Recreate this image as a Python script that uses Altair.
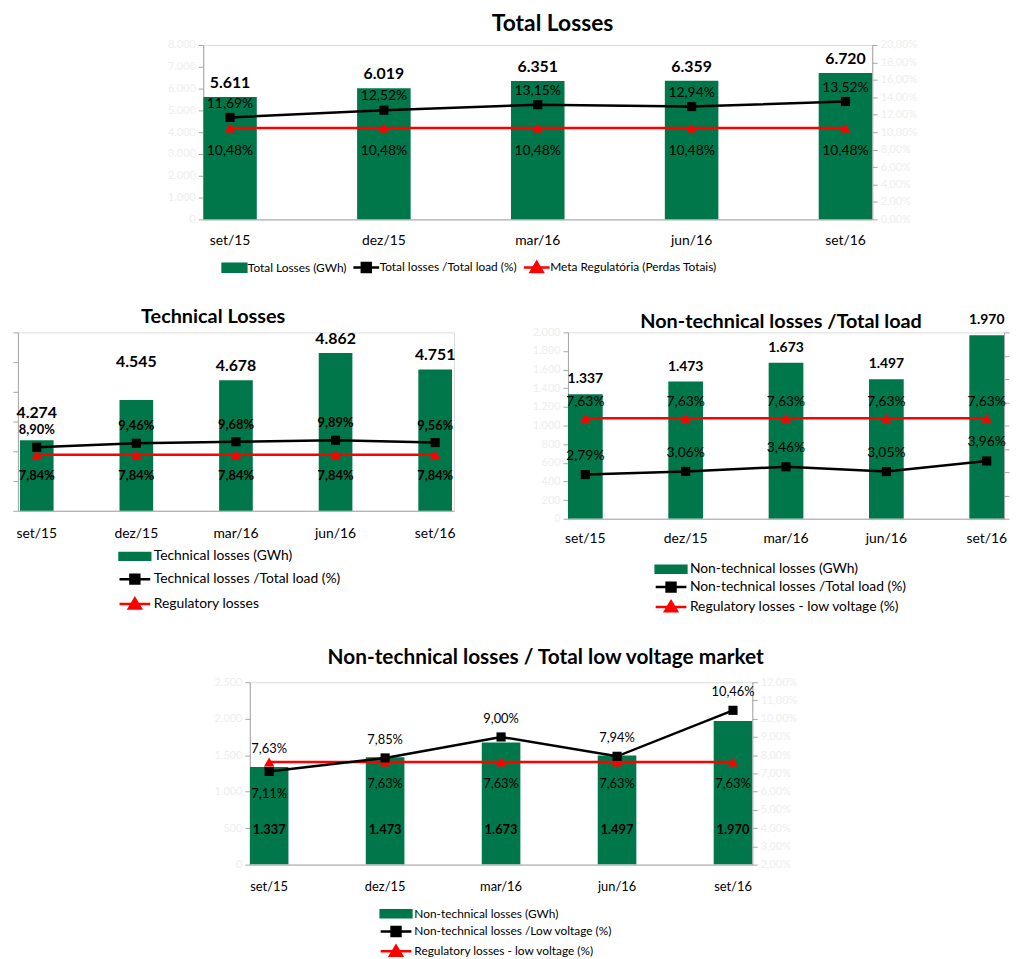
import altair as alt
import pandas as pd

# ---------------- data ----------------
periods = ["set/15", "dez/15", "mar/16", "jun/16", "set/16"]

total_losses_gwh = [5611, 6019, 6351, 6359, 6720]
total_losses_pct = [11.69, 12.52, 13.15, 12.94, 13.52]
total_target_pct = [10.48, 10.48, 10.48, 10.48, 10.48]

technical_losses_gwh = [4274, 4545, 4678, 4862, 4751]
technical_losses_pct = [8.90, 9.46, 9.68, 9.89, 9.56]
technical_regulatory_pct = [7.84, 7.84, 7.84, 7.84, 7.84]

nontech_losses_gwh = [1337, 1473, 1673, 1497, 1970]
nontech_load_pct = [2.79, 3.06, 3.46, 3.05, 3.96]
nontech_regulatory_pct = [7.63, 7.63, 7.63, 7.63, 7.63]

nontech_lv_pct = [7.11, 7.85, 9.00, 7.94, 10.46]
lv_regulatory_pct = [7.63, 7.63, 7.63, 7.63, 7.63]

top_series = ["Total Losses (GWh)", "Total losses /Total load (%)",
              "Meta Regulatória (Perdas Totais)"]
tech_series = ["Technical losses (GWh)", "Technical losses /Total load (%)",
               "Regulatory losses"]
nontech_series = ["Non-technical losses (GWh)", "Non-technical losses /Total load (%)",
                  "Regulatory losses - low voltage (%)"]
lv_series = ["Non-technical losses (GWh)", "Non-technical losses /Low voltage (%)",
             "Regulatory losses - low voltage (%)"]

top_left_ticks = [0, 1000, 2000, 3000, 4000, 5000, 6000, 7000, 8000]
top_right_ticks = [0, 2, 4, 6, 8, 10, 12, 14, 16, 18, 20]
tech_left_ticks = [3800, 4000, 4200, 4400, 4600, 4800, 5000]
nontech_left_ticks = [0, 200, 400, 600, 800, 1000, 1200, 1400, 1600, 1800, 2000]
nontech_right_ticks = [-1, 1, 3, 5, 7, 9, 11, 13, 15]
lv_left_ticks = [0, 500, 1000, 1500, 2000, 2500]
lv_right_ticks = [2, 3, 4, 5, 6, 7, 8, 9, 10, 11, 12]

# ---------------- style ----------------
FONT = "Lato"
GREEN = "#00774A"
RED = "#FF0000"
AXIS_GRAY = "#A6A6A6"
FAINT = "#EEEEEE"

INDEP = dict(fill="independent", stroke="independent", shape="independent")


def fmt_num(f):
    return f"replace(format({f}, ','), ',', '.')"


def fmt_pct(f):
    return f"replace(format({f}, '.2f'), '.', ',') + '%'"


def y_axis(values, labels, expr, orient):
    if labels:
        return alt.Axis(title=None, orient=orient, values=values, labelExpr=expr,
                        labelColor=FAINT, labelFont=FONT, labelFontSize=11,
                        tickColor=AXIS_GRAY, tickSize=5, domainColor=AXIS_GRAY,
                        grid=False, labelPadding=3)
    return alt.Axis(title=None, orient=orient, values=values, labels=False,
                    tickColor=AXIS_GRAY, tickSize=5, domainColor=AXIS_GRAY, grid=False)


def legend_paths(line_half, rect_half_w, rect_half_h):
    return [
        f"M{-rect_half_w},{-rect_half_h}H{rect_half_w}V{rect_half_h}H{-rect_half_w}Z",
        f"M{-line_half},0H{line_half}M-0.9,-0.9H0.9V0.9H-0.9Z",
        f"M{-line_half},0H{line_half}M0,-1.1L1.2,0.9H-1.2Z",
    ]


def text_layers(base, X, Y, fld, fmt, rules, fs, fw):
    out = []
    for flt, baseline, dy in rules:
        t = base.transform_calculate(lbl=fmt(f"datum.{fld}"))
        if flt:
            t = t.transform_filter(flt)
        t = t.mark_text(font=FONT, fontSize=fs, fontWeight=fw, color="black",
                        baseline=baseline, dy=dy).encode(x=X, y=Y, text="lbl:N")
        out.append(t)
    return out


def build_panel(gwh, pct, reg, series, o):
    df = pd.DataFrame({"period": periods, "gwh": gwh, "pct": pct, "reg": reg})
    base = alt.Chart(df)
    X = alt.X("period:N", sort=periods,
              scale=alt.Scale(domain=periods, paddingInner=o["pi"], paddingOuter=o["po"]),
              axis=alt.Axis(title=None, labelAngle=0, ticks=False, tickSize=0,
                            domainColor=AXIS_GRAY, labelFont=FONT, labelFontSize=o["xfs"],
                            labelColor="black", labelPadding=o["xpad"], grid=False))

    ls = alt.Scale(domain=o["ld"], nice=False, zero=False)
    la = y_axis(o["lt"], o["ll"], fmt_num("datum.value"), "left")

    bars = base.mark_bar(color=GREEN, clip=True).encode(
        x=X, y=alt.Y("gwh:Q", scale=ls, axis=la))

    bl = o["bar_label"]
    if bl.get("inside"):
        Yb = alt.YDatum(0, scale=ls, axis=la)
    else:
        Yb = alt.Y("gwh:Q", scale=ls, axis=la)
    bar_texts = text_layers(base, X, Yb, "gwh", fmt_num, bl["rules"], bl["fs"], "bold")

    lg = o["legend"]
    leg_df = pd.DataFrame({"series": series})
    leg_kw = dict(title=None, orient="none", legendX=lg["x"], legendY=lg["y"],
                  direction=lg["dir"], symbolSize=100, symbolStrokeWidth=2.5,
                  symbolOpacity=1, labelFont=FONT, labelFontSize=lg["fs"],
                  labelColor="black", labelOffset=lg["lo"], rowPadding=lg["rp"],
                  columnPadding=lg["cp"], padding=0, labelLimit=400)
    if lg["dir"] == "vertical":
        leg_kw["columns"] = 1
    paths = legend_paths(*lg["paths"])
    leg = alt.Chart(leg_df).mark_point(opacity=0, size=1).encode(
        fill=alt.Fill("series:N", scale=alt.Scale(domain=series, range=[GREEN, "black", RED]),
                      legend=alt.Legend(**leg_kw)),
        stroke=alt.Stroke("series:N", scale=alt.Scale(domain=series, range=[GREEN, "black", RED]),
                          legend=alt.Legend(**leg_kw)),
        shape=alt.Shape("series:N", scale=alt.Scale(domain=series, range=paths),
                        legend=alt.Legend(**leg_kw)),
    )

    left = alt.layer(bars, *bar_texts, leg)

    rs = alt.Scale(domain=o["rd"], nice=False, zero=False)
    ra = y_axis(o["rt"], o["rl"], fmt_pct("datum.value"), "right") if o["r_on"] else None
    Yp = alt.Y("pct:Q", scale=rs, axis=ra)
    Yr = alt.Y("reg:Q", scale=rs, axis=ra)

    line_black = base.mark_line(color="black", strokeWidth=2.5).encode(x=X, y=Yp)
    pts_black = base.mark_point(shape="square", filled=True, size=85, color="black",
                                opacity=1).encode(x=X, y=Yp)
    line_red = base.mark_line(color=RED, strokeWidth=2.5).encode(x=X, y=Yr)
    pts_red = base.mark_point(shape="triangle-up", filled=True, size=110, color=RED,
                              opacity=1).encode(x=X, y=Yr)

    pl = o["pct_label"]
    layers = [line_red, line_black, pts_red, pts_black]
    layers += text_layers(base, X, Yp, "pct", fmt_pct, pl["black"], pl["fs"], pl["fw"])
    layers += text_layers(base, X, Yr, "reg", fmt_pct, pl["red"], pl["fs"], pl["fw"])
    right = alt.layer(*layers)

    t = o["title"]
    return alt.layer(left, right).resolve_scale(y="independent").properties(
        width=o["w"], height=o["h"],
        title=alt.TitleParams(t["text"], font=FONT, fontSize=t["fs"], fontWeight="bold",
                              color="black", anchor="middle", frame="group",
                              dx=t["dx"], offset=t["off"]))


top = build_panel(total_losses_gwh, total_losses_pct, total_target_pct, top_series, dict(
    w=675, h=176, pi=0.652, po=0.0, xfs=14, xpad=14,
    ld=[0, 8000], lt=top_left_ticks, ll=True,
    rd=[0, 20], rt=top_right_ticks, rl=True, r_on=True,
    bar_label=dict(fs=16, rules=[(None, "bottom", -6)]),
    pct_label=dict(fs=14, fw="normal",
                   black=[(None, "bottom", -7)], red=[(None, "top", 16)]),
    title=dict(text="Total Losses", fs=23, dx=15, off=3),
    legend=dict(x=25, y=218, dir="horizontal", fs=12, lo=7, rp=0, cp=1,
                paths=(2.6, 2.4, 0.8)),
))

tech = build_panel(technical_losses_gwh, technical_losses_pct, technical_regulatory_pct,
                   tech_series, dict(
    w=440, h=180, pi=0.662, po=0.02, xfs=14, xpad=16,
    ld=[3800, 5000], lt=tech_left_ticks, ll=False,
    rd=[0, 25], rt=[], rl=False, r_on=False,
    bar_label=dict(fs=16, rules=[("datum.period == 'set/15'", "bottom", -20),
                                 ("datum.period == 'dez/15'", "bottom", -30),
                                 ("datum.period != 'set/15' && datum.period != 'dez/15'",
                                  "bottom", -6)]),
    pct_label=dict(fs=13, fw="bold",
                   black=[(None, "bottom", -10)], red=[(None, "top", 15)]),
    title=dict(text="Technical Losses", fs=20, dx=-23, off=4),
    legend=dict(x=111, y=219, dir="vertical", fs=14, lo=12, rp=4, cp=0,
                paths=(3.1, 3.1, 0.7)),
))

nontech = build_panel(nontech_losses_gwh, nontech_load_pct, nontech_regulatory_pct,
                      nontech_series, dict(
    w=440, h=188, pi=0.654, po=0.0, xfs=14, xpad=13,
    ld=[0, 2000], lt=nontech_left_ticks, ll=True,
    rd=[-1, 15], rt=nontech_right_ticks, rl=False, r_on=True,
    bar_label=dict(fs=14, rules=[(None, "bottom", -8)]),
    pct_label=dict(fs=14, fw="normal",
                   black=[(None, "bottom", -12)], red=[(None, "bottom", -9)]),
    title=dict(text="Non-technical losses /Total load", fs=20, dx=-5, off=-19),
    legend=dict(x=97, y=232, dir="vertical", fs=14, lo=12, rp=-1, cp=0,
                paths=(3.1, 3.1, 0.7)),
))

bottom = build_panel(nontech_losses_gwh, nontech_lv_pct, lv_regulatory_pct,
                     lv_series, dict(
    w=507, h=184, pi=0.667, po=0.0, xfs=13, xpad=16,
    ld=[0, 2500], lt=lv_left_ticks, ll=True,
    rd=[2, 12], rt=lv_right_ticks, rl=True, r_on=True,
    bar_label=dict(fs=13, inside=True, rules=[(None, "middle", -35)]),
    pct_label=dict(fs=13, fw="normal",
                   black=[("datum.period != 'set/15'", "bottom", -11),
                          ("datum.period == 'set/15'", "top", 17)],
                   red=[("datum.period != 'set/15'", "top", 16),
                        ("datum.period == 'set/15'", "bottom", -6)]),
    title=dict(text="Non-technical losses / Total low voltage market", fs=21, dx=45, off=8),
    legend=dict(x=141, y=227, dir="vertical", fs=12, lo=12, rp=0, cp=0,
                paths=(3.1, 3.1, 0.7)),
))


def spacer(w, h):
    return alt.Chart(pd.DataFrame({"s": [0]})).mark_point(opacity=0).properties(width=w, height=h)


row1 = alt.hconcat(spacer(194, 1), top, spacing=0, bounds="flush").resolve_scale(**INDEP)
row2 = alt.hconcat(spacer(7, 1), tech, spacer(115, 1), nontech, spacing=0,
                   bounds="flush").resolve_scale(**INDEP)
row3 = alt.hconcat(spacer(241, 1), bottom, spacing=0, bounds="flush").resolve_scale(**INDEP)

chart = alt.vconcat(
    row1, spacer(1, 29), row2, spacer(1, 29), row3, spacing=0,
).resolve_scale(**INDEP).properties(
    padding={"left": 0, "top": 0, "right": 0, "bottom": 0}
).configure_view(stroke=None).configure(font=FONT)

chart.save("out.html", embed_options={"renderer": "svg", "actions": False})
